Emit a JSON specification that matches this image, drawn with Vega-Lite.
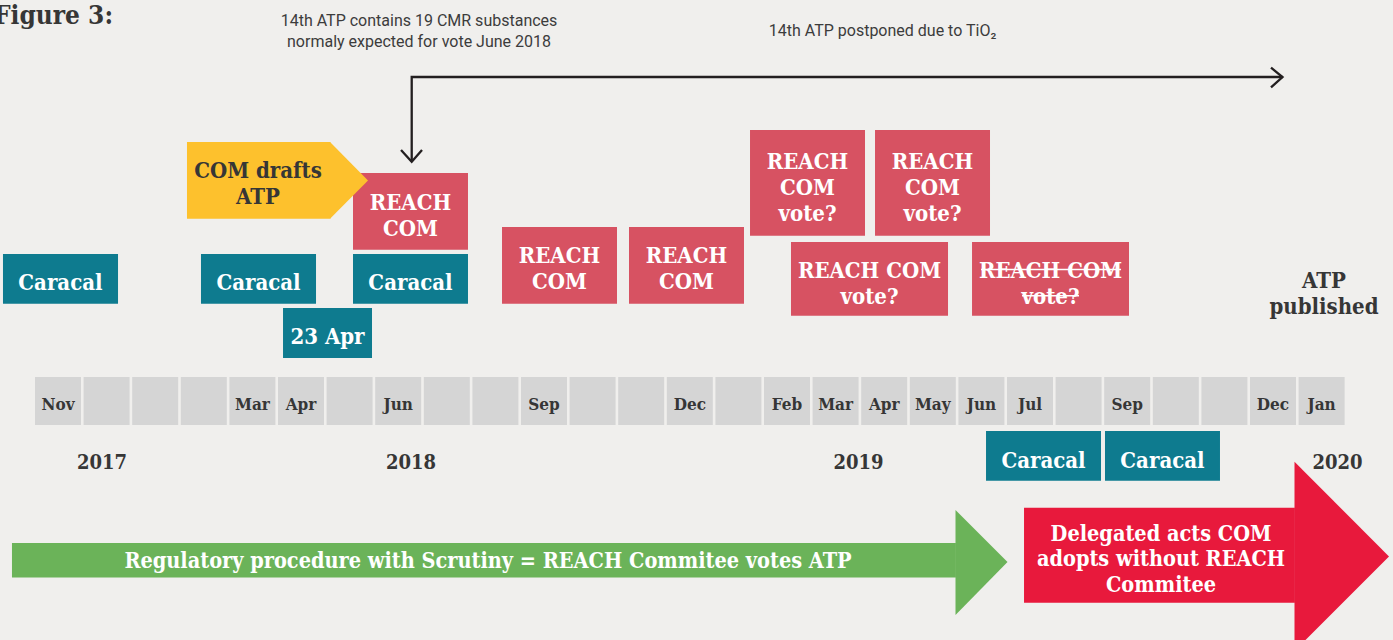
{
  "$schema": "https://vega.github.io/schema/vega-lite/v6.json",
  "width": 1393,
  "height": 640,
  "autosize": "none",
  "padding": 0,
  "background": "#f0efed",
  "config": {"view": {"stroke": null}},
  "datasets": {
    "months": [
      {"m": 0, "label": "Nov"}, {"m": 1, "label": ""}, {"m": 2, "label": ""}, {"m": 3, "label": ""},
      {"m": 4, "label": "Mar"}, {"m": 5, "label": "Apr"}, {"m": 6, "label": ""}, {"m": 7, "label": "Jun"},
      {"m": 8, "label": ""}, {"m": 9, "label": ""}, {"m": 10, "label": "Sep"}, {"m": 11, "label": ""},
      {"m": 12, "label": ""}, {"m": 13, "label": "Dec"}, {"m": 14, "label": ""}, {"m": 15, "label": "Feb"},
      {"m": 16, "label": "Mar"}, {"m": 17, "label": "Apr"}, {"m": 18, "label": "May"}, {"m": 19, "label": "Jun"},
      {"m": 20, "label": "Jul"}, {"m": 21, "label": ""}, {"m": 22, "label": "Sep"}, {"m": 23, "label": ""},
      {"m": 24, "label": ""}, {"m": 25, "label": "Dec"}, {"m": 26, "label": "Jan"}
    ],
    "years": [
      {"x": 0.905, "label": "2017"}, {"x": 7.263, "label": "2018"},
      {"x": 16.471, "label": "2019"}, {"x": 26.327, "label": "2020"}
    ],
    "boxes": [
      {"kind": "caracal", "start": -1.132, "end": 1.235, "top": 38.6, "bottom": 33.63},
      {"kind": "caracal", "start": 2.942, "end": 5.309, "top": 38.6, "bottom": 33.63},
      {"kind": "caracal", "start": 6.07, "end": 8.436, "top": 38.6, "bottom": 33.63},
      {"kind": "caracal", "start": 4.63, "end": 6.461, "top": 33.2, "bottom": 28.2},
      {"kind": "reach", "start": 6.07, "end": 8.436, "top": 46.7, "bottom": 39.03},
      {"kind": "reach", "start": 9.136, "end": 11.502, "top": 41.3, "bottom": 33.63},
      {"kind": "reach", "start": 11.749, "end": 14.115, "top": 41.3, "bottom": 33.63},
      {"kind": "reach", "start": 14.239, "end": 16.605, "top": 51.0, "bottom": 40.43},
      {"kind": "reach", "start": 16.811, "end": 19.177, "top": 51.0, "bottom": 40.43},
      {"kind": "reach", "start": 15.082, "end": 18.313, "top": 39.8, "bottom": 32.43},
      {"kind": "reach", "start": 18.807, "end": 22.037, "top": 39.8, "bottom": 32.43},
      {"kind": "caracal", "start": 19.095, "end": 21.461, "top": 20.9, "bottom": 15.93},
      {"kind": "caracal", "start": 21.543, "end": 23.909, "top": 20.9, "bottom": 15.93},
      {"kind": "yellow", "start": 2.654, "end": 5.605, "top": 49.8, "bottom": 42.13},
      {"kind": "green", "start": -0.947, "end": 18.475, "top": 9.7, "bottom": 6.25},
      {"kind": "red", "start": 19.877, "end": 25.45, "top": 13.22, "bottom": 3.73}
    ],
    "heads": [
      {"shape": "yellow", "x": 5.597, "top": 49.8, "bottom": 42.13},
      {"shape": "yellow", "x": 6.379, "top": 45.95, "bottom": 45.95},
      {"shape": "green", "x": 18.467, "top": 13.0, "bottom": 2.5},
      {"shape": "green", "x": 19.537, "top": 7.8, "bottom": 7.8},
      {"shape": "red", "x": 25.442, "top": 17.83, "bottom": -1.1},
      {"shape": "red", "x": 27.387, "top": 8.35, "bottom": 8.35}
    ],
    "labels": [
      {"kind": "caracal", "x": 0.051, "y": 35.7, "text": ["Caracal"]},
      {"kind": "caracal", "x": 4.126, "y": 35.7, "text": ["Caracal"]},
      {"kind": "caracal", "x": 7.253, "y": 35.7, "text": ["Caracal"]},
      {"kind": "caracal", "x": 5.545, "y": 30.32, "text": ["23 Apr"]},
      {"kind": "reach", "x": 7.253, "y": 43.73, "text": ["REACH", "COM"]},
      {"kind": "reach", "x": 10.319, "y": 38.37, "text": ["REACH", "COM"]},
      {"kind": "reach", "x": 12.932, "y": 38.37, "text": ["REACH", "COM"]},
      {"kind": "reach", "x": 15.422, "y": 47.85, "text": ["REACH", "COM", "vote?"]},
      {"kind": "reach", "x": 17.994, "y": 47.85, "text": ["REACH", "COM", "vote?"]},
      {"kind": "reach", "x": 16.698, "y": 36.92, "text": ["REACH COM", "vote?"]},
      {"kind": "reach", "x": 20.422, "y": 36.92, "text": ["REACH COM", "vote?"]},
      {"kind": "caracal", "x": 20.278, "y": 17.92, "text": ["Caracal"]},
      {"kind": "caracal", "x": 22.726, "y": 17.92, "text": ["Caracal"]},
      {"kind": "yellow", "x": 4.115, "y": 46.87, "text": ["COM drafts", "ATP"]},
      {"kind": "note", "x": 26.049, "y": 35.87, "text": ["ATP", "published"]}
    ],
    "lines": [
      {"path": "elbow", "seq": 1, "x": 7.278, "y": 47.83},
      {"path": "elbow", "seq": 2, "x": 7.278, "y": 56.3},
      {"path": "elbow", "seq": 3, "x": 25.195, "y": 56.3},
      {"path": "headR", "seq": 1, "x": 24.959, "y": 57.23},
      {"path": "headR", "seq": 2, "x": 25.195, "y": 56.3},
      {"path": "headR", "seq": 3, "x": 24.959, "y": 55.27},
      {"path": "headD", "seq": 1, "x": 7.058, "y": 49.0},
      {"path": "headD", "seq": 2, "x": 7.278, "y": 47.83},
      {"path": "headD", "seq": 3, "x": 7.49, "y": 49.0}
    ],
    "strikes": [
      {"path": "s1", "seq": 1, "x": 18.992, "y": 37.05},
      {"path": "s1", "seq": 2, "x": 21.873, "y": 37.05},
      {"path": "s2", "seq": 1, "x": 19.835, "y": 34.43},
      {"path": "s2", "seq": 2, "x": 21.008, "y": 34.43}
    ],
    "notes": [
      {"x": 7.428, "y": 61.95, "text": ["14th ATP contains 19 CMR substances", "normaly expected for vote June 2018"]},
      {"x": 16.965, "y": 60.92, "text": ["14th ATP postponed due to TiO₂"]}
    ],
    "arrowText": [
      {"x": 8.848, "y": 7.82, "text": ["Regulatory procedure with Scrutiny = REACH Commitee votes ATP"]},
      {"x": 22.696, "y": 10.52, "text": ["Delegated acts COM", "adopts without REACH", "Commitee"]}
    ],
    "title": [
      {"x": 1.132, "y": 62.4, "text": "Figure 3:"}
    ]
  },
  "layer": [
    {
      "data": {"name": "months"},
      "mark": {"type": "bar", "width": 46, "color": "#d5d5d5"},
      "encoding": {
        "x": {"field": "m", "type": "quantitative", "scale": {"domain": [-1.1934, 27.469], "nice": false, "zero": false, "padding": 0}, "axis": null},
        "y": {"datum": 26.3, "type": "quantitative", "scale": {"domain": [0, 64], "nice": false, "zero": false, "padding": 0}, "axis": null},
        "y2": {"datum": 21.5}
      }
    },
    {
      "data": {"name": "months"},
      "mark": {"type": "text", "font": "DejaVu Serif Condensed, DejaVu Serif, serif", "fontWeight": "bold", "fontSize": 17, "color": "#363636", "align": "center", "baseline": "middle"},
      "encoding": {
        "x": {"field": "m", "type": "quantitative"},
        "y": {"datum": 23.5, "type": "quantitative"},
        "text": {"field": "label"}
      }
    },
    {
      "data": {"name": "years"},
      "mark": {"type": "text", "font": "DejaVu Serif Condensed, DejaVu Serif, serif", "fontWeight": "bold", "fontSize": 20, "color": "#363636", "align": "center", "baseline": "middle"},
      "encoding": {
        "x": {"field": "x", "type": "quantitative"},
        "y": {"datum": 17.67, "type": "quantitative"},
        "text": {"field": "label"}
      }
    },
    {
      "data": {"name": "boxes"},
      "mark": {"type": "rect"},
      "encoding": {
        "x": {"field": "start", "type": "quantitative"},
        "x2": {"field": "end"},
        "y": {"field": "top", "type": "quantitative"},
        "y2": {"field": "bottom"},
        "color": {"field": "kind", "type": "nominal", "legend": null,
          "scale": {"domain": ["caracal", "reach", "yellow", "green", "red"], "range": ["#0e7b8f", "#d75262", "#fdc12d", "#6bb359", "#e8193c"]}}
      }
    },
    {
      "data": {"name": "heads"},
      "mark": {"type": "area", "interpolate": "linear", "opacity": 1},
      "encoding": {
        "x": {"field": "x", "type": "quantitative"},
        "y": {"field": "top", "type": "quantitative", "stack": null},
        "y2": {"field": "bottom"},
        "color": {"field": "shape", "type": "nominal", "legend": null,
          "scale": {"domain": ["caracal", "reach", "yellow", "green", "red"], "range": ["#0e7b8f", "#d75262", "#fdc12d", "#6bb359", "#e8193c"]}}
      }
    },
    {
      "data": {"name": "lines"},
      "mark": {"type": "line", "color": "#231f20", "strokeWidth": 2.3, "strokeJoin": "miter"},
      "encoding": {
        "x": {"field": "x", "type": "quantitative"},
        "y": {"field": "y", "type": "quantitative"},
        "detail": {"field": "path"},
        "order": {"field": "seq", "type": "quantitative"}
      }
    },
    {
      "data": {"name": "labels"},
      "mark": {"type": "text", "font": "DejaVu Serif Condensed, DejaVu Serif, serif", "fontWeight": "bold", "fontSize": 22, "lineHeight": 26, "align": "center", "baseline": "middle"},
      "encoding": {
        "x": {"field": "x", "type": "quantitative"},
        "y": {"field": "y", "type": "quantitative"},
        "text": {"field": "text"},
        "color": {"condition": {"test": "datum.kind === 'yellow' || datum.kind === 'note'", "value": "#363636"}, "value": "#ffffff"}
      }
    },
    {
      "data": {"name": "strikes"},
      "mark": {"type": "line", "color": "#ffffff", "strokeWidth": 1.6},
      "encoding": {
        "x": {"field": "x", "type": "quantitative"},
        "y": {"field": "y", "type": "quantitative"},
        "detail": {"field": "path"},
        "order": {"field": "seq", "type": "quantitative"}
      }
    },
    {
      "data": {"name": "notes"},
      "mark": {"type": "text", "font": "Roboto", "fontWeight": "normal", "fontSize": 16, "lineHeight": 21, "color": "#3c3c3c", "align": "center", "baseline": "middle"},
      "encoding": {
        "x": {"field": "x", "type": "quantitative"},
        "y": {"field": "y", "type": "quantitative"},
        "text": {"field": "text"}
      }
    },
    {
      "data": {"name": "arrowText"},
      "mark": {"type": "text", "font": "DejaVu Serif Condensed, DejaVu Serif, serif", "fontWeight": "bold", "fontSize": 21.5, "lineHeight": 25.5, "color": "#ffffff", "align": "center", "baseline": "middle"},
      "encoding": {
        "x": {"field": "x", "type": "quantitative"},
        "y": {"field": "y", "type": "quantitative"},
        "text": {"field": "text"}
      }
    },
    {
      "data": {"name": "title"},
      "mark": {"type": "text", "font": "DejaVu Serif Condensed, DejaVu Serif, serif", "fontWeight": "bold", "fontSize": 26, "color": "#363636", "align": "right", "baseline": "middle"},
      "encoding": {
        "x": {"field": "x", "type": "quantitative"},
        "y": {"field": "y", "type": "quantitative"},
        "text": {"field": "text"}
      }
    }
  ]
}
